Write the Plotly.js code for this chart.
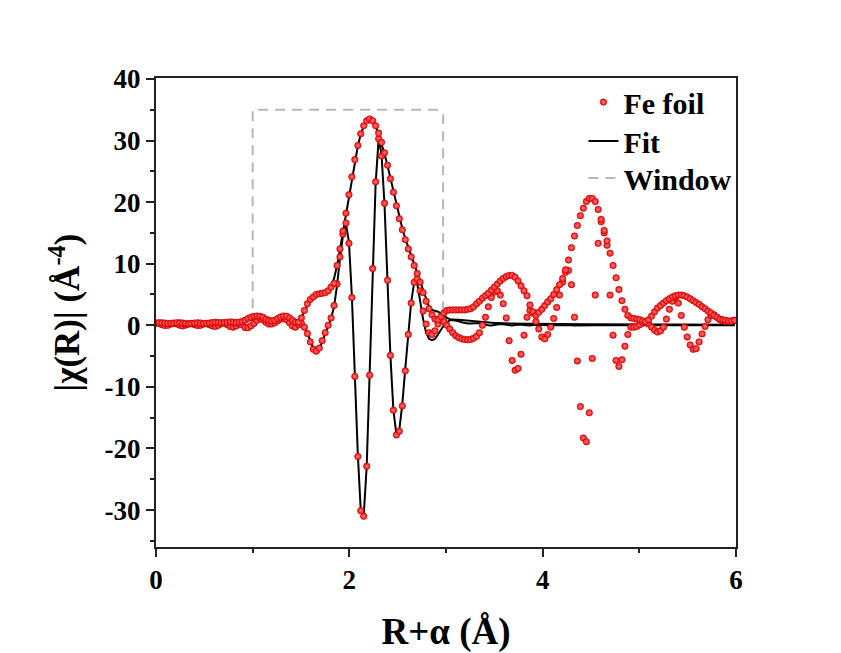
<!DOCTYPE html>
<html>
<head>
<meta charset="utf-8">
<script src="https://cdn.plot.ly/plotly-3.0.1.min.js"></script>
<style>html,body{margin:0;padding:0;background:#fff;}#chart{width:841px;height:653px;}</style>
</head>
<body>
<div id="chart"></div>
<script>
// R grid (Å)
const R = [0,0.031,0.061,0.092,0.123,0.154,0.184,0.215,0.246,0.276,
0.307,0.338,0.368,0.399,0.430,0.461,0.491,0.522,0.553,0.583,
0.614,0.645,0.675,0.706,0.737,0.768,0.798,0.829,0.860,0.890,
0.921,0.952,0.982,1.013,1.044,1.075,1.105,1.136,1.167,1.197,
1.228,1.259,1.289,1.320,1.351,1.382,1.412,1.443,1.474,1.504,
1.535,1.566,1.596,1.627,1.658,1.689,1.719,1.750,1.781,1.811,
1.842,1.873,1.903,1.934,1.965,1.996,2.026,2.057,2.088,2.118,
2.149,2.180,2.210,2.241,2.272,2.303,2.333,2.364,2.395,2.425,
2.456,2.487,2.517,2.548,2.579,2.610,2.640,2.671,2.702,2.732,
2.763,2.794,2.824,2.855,2.886,2.917,2.947,2.978,3.009,3.039,
3.070,3.101,3.131,3.162,3.193,3.224,3.254,3.285,3.316,3.346,
3.377,3.408,3.438,3.469,3.500,3.531,3.561,3.592,3.623,3.653,
3.684,3.715,3.745,3.776,3.807,3.838,3.868,3.899,3.930,3.960,
3.991,4.022,4.052,4.083,4.114,4.145,4.175,4.206,4.237,4.267,
4.298,4.329,4.359,4.390,4.421,4.452,4.482,4.513,4.544,4.574,
4.605,4.636,4.666,4.697,4.728,4.759,4.789,4.820,4.851,4.881,
4.912,4.943,4.973,5.004,5.035,5.066,5.096,5.127,5.158,5.188,
5.219,5.250,5.280,5.311,5.342,5.373,5.403,5.434,5.465,5.495,
5.526,5.557,5.587,5.618,5.649,5.680,5.710,5.741,5.772,5.802,
5.833,5.864,5.894,5.925,5.956,5.987];

// Fe foil data: |chi(R)|
const dataMag = [0.35,0.4,0.4,0.35,0.3,0.3,0.35,0.4,0.4,0.35,
0.3,0.25,0.3,0.35,0.4,0.35,0.3,0.3,0.35,0.45,
0.5,0.45,0.4,0.45,0.5,0.55,0.5,0.45,0.5,0.6,
0.8,1.1,1.3,1.45,1.5,1.45,1.3,1.0,0.8,0.7,
0.8,1.1,1.35,1.5,1.45,1.2,0.8,0.5,0.5,1.2,
2.4,3.5,4.2,4.6,5.0,5.1,5.2,5.3,5.6,6.2,
6.8,9.7,12.4,15.3,18.2,21.2,24.1,26.9,29.2,31.1,
32.4,33.2,33.5,33.2,32.4,31.2,29.7,28.0,26.0,23.8,
21.6,19.4,17.3,15.5,13.9,12.4,11.1,9.7,8.4,7.0,
5.3,3.9,2.7,1.7,1.0,0.9,1.4,2.0,2.4,2.5,
2.5,2.5,2.5,2.5,2.5,2.6,2.7,3.0,3.5,3.9,
4.4,4.8,5.2,5.7,6.2,6.7,7.2,7.6,7.9,8.1,
8.1,7.8,7.2,6.4,5.6,4.8,3.3,2.2,1.6,2.1,
2.6,3.2,3.8,4.3,5.0,5.8,6.6,7.6,9.0,10.6,
12.6,14.5,16.2,17.8,19.0,20.1,20.6,20.6,20.1,18.8,
17.2,15.4,13.7,11.7,9.7,7.7,5.8,4.0,2.6,1.6,
1.2,1.1,1.0,0.9,0.7,0.6,0.9,1.5,2.2,2.8,
3.2,3.6,4.0,4.3,4.6,4.8,4.9,4.9,4.8,4.6,
4.3,4.0,3.7,3.4,3.0,2.7,2.3,2.0,1.6,1.3,
1.0,0.9,0.8,0.7,0.7,0.8];

// Fe foil data: Re[chi(R)]
const dataRe = [0.35,0.3,0.1,-0.05,0.0,0.2,0.3,0.2,0.0,-0.1,
0.05,0.2,0.25,0.1,-0.05,0.0,0.2,0.25,0.1,-0.1,
-0.2,0.0,0.3,0.35,0.1,-0.2,-0.3,-0.1,0.2,0.1,
-0.35,-0.4,-0.1,0.3,0.8,1.1,0.9,0.5,0.2,0.2,
0.4,0.7,1.0,1.1,0.9,0.4,-0.1,-0.3,0.1,0.3,
-0.3,-1.35,-2.7,-3.9,-4.2,-3.7,-2.5,-1.2,0.0,1.2,
3.2,6.7,11.1,14.8,16.6,13.3,4.5,-8.3,-21.3,-30.1,
-31.0,-22.9,-8.1,9.2,23.3,30.3,27.5,19.8,7.3,-4.9,
-13.8,-17.8,-17.2,-13.1,-7.4,-1.5,3.6,7.0,7.5,5.6,
2.3,0.2,-1.2,-1.5,-0.9,0.2,0.8,0.6,0.0,-0.6,
-1.2,-1.7,-2.0,-2.2,-2.3,-2.35,-2.3,-2.1,-1.8,-1.2,
0.0,1.3,3.0,4.5,5.4,5.6,4.9,3.5,1.2,-2.5,
-5.7,-7.3,-7.0,-4.7,-1.6,1.3,2.4,2.0,0.6,-0.6,
-1.9,-2.2,-1.5,-0.3,1.1,2.9,4.9,7.0,8.6,8.9,
6.6,1.3,-5.8,-13.2,-18.3,-18.9,-14.2,-5.4,4.9,13.3,
16.8,15.0,13.0,4.9,-1.6,-5.7,-6.7,-5.6,-3.4,-1.5,
-0.3,-0.3,-0.2,0.1,0.4,0.5,0.2,-0.3,-0.8,-1.1,
-0.9,-0.3,1.0,2.6,3.9,4.5,3.6,1.6,-0.3,-1.9,
-3.2,-3.9,-3.8,-2.7,-1.4,-0.2,0.9,1.6,1.7,1.3,
0.9,0.7,0.6,0.6,0.7,0.8];

// Fit: |chi(R)|
const fitMag = [0.3,0.32,0.33,0.3,0.28,0.27,0.3,0.33,0.33,0.3,
0.27,0.25,0.27,0.3,0.32,0.3,0.27,0.27,0.3,0.35,
0.38,0.36,0.33,0.36,0.4,0.42,0.4,0.38,0.42,0.5,
0.65,0.85,1.0,1.1,1.15,1.1,1.0,0.8,0.65,0.6,
0.7,0.9,1.1,1.2,1.2,1.0,0.75,0.6,0.7,1.3,
2.3,3.3,4.0,4.5,4.8,5.0,5.1,5.3,5.7,6.4,
7.6,9.7,12.3,15.2,18.1,21.1,24.0,26.8,29.1,31.0,
32.3,33.1,33.4,33.1,32.3,31.0,29.5,27.8,25.9,23.8,
21.6,19.5,17.5,15.7,14.1,12.7,11.3,9.9,8.5,7.0,
5.5,4.1,3.0,2.5,2.4,2.2,1.9,1.5,1.2,1.0,
0.9,0.9,0.9,0.85,0.8,0.7,0.65,0.6,0.55,0.5,
0.48,0.45,0.42,0.4,0.37,0.35,0.33,0.3,0.28,0.27,
0.26,0.25,0.25,0.24,0.24,0.23,0.23,0.22,0.22,0.21,
0.21,0.2,0.2,0.2,0.19,0.19,0.19,0.18,0.18,0.18,
0.18,0.17,0.17,0.17,0.17,0.16,0.16,0.16,0.16,0.16,
0.15,0.15,0.15,0.15,0.15,0.15,0.14,0.14,0.14,0.14,
0.14,0.14,0.14,0.13,0.13,0.13,0.13,0.13,0.13,0.13,
0.13,0.12,0.12,0.12,0.12,0.12,0.12,0.12,0.12,0.12,
0.12,0.11,0.11,0.11,0.11,0.11,0.11,0.11,0.11,0.11,
0.11,0.1,0.1,0.1,0.1,0.1];

// Fit: Re[chi(R)]
const fitRe = [0.25,0.2,0.05,-0.05,0.0,0.15,0.22,0.15,0.0,-0.08,
0.03,0.15,0.2,0.08,-0.04,0.0,0.15,0.2,0.08,-0.08,
-0.15,0.0,0.22,0.27,0.08,-0.15,-0.25,-0.08,0.15,0.05,
-0.2,-0.25,0.0,0.3,0.6,0.85,0.75,0.45,0.2,0.15,
0.3,0.55,0.8,0.9,0.75,0.35,0.0,-0.2,0.05,0.4,
-0.2,-1.2,-2.5,-3.7,-4.2,-3.8,-2.7,-1.4,-0.2,1.1,
3.0,6.5,10.8,14.6,16.5,13.5,4.8,-8.0,-21.0,-30.0,
-30.8,-22.8,-8.3,9.0,23.0,30.2,27.8,19.6,7.0,-5.0,
-13.8,-17.7,-17.0,-12.8,-7.0,-1.2,3.8,7.0,6.8,4.0,
1.0,-1.2,-2.2,-2.4,-2.2,-1.5,-0.7,0.0,0.5,0.8,
0.85,0.8,0.65,0.5,0.35,0.3,0.3,0.35,0.4,0.35,
0.25,0.1,0.0,-0.05,0.05,0.15,0.2,0.15,0.05,-0.05,
-0.05,0.05,0.12,0.12,0.05,-0.02,-0.03,0.03,0.08,0.08,
0.03,-0.02,0.0,0.05,0.06,0.02,-0.02,0.0,0.04,0.05,
0.02,-0.02,-0.01,0.03,0.04,0.02,-0.01,0.0,0.03,0.03,
0.01,-0.01,0.0,0.02,0.03,0.01,-0.01,0.0,0.02,0.02,
0.01,-0.01,0.0,0.02,0.02,0.01,-0.01,0.0,0.01,0.02,
0.01,0.0,0.0,0.01,0.02,0.01,0.0,0.0,0.01,0.01,
0.01,0.0,0.0,0.01,0.01,0.01,0.0,0.0,0.01,0.01,
0.0,0.0,0.0,0.01,0.01,0.0];

// Fitting window
const winR = [1.0, 1.0, 1.03, 2.9, 2.97, 2.97];
const winY = [0, 35, 35, 35, 34.5, 0];

// Tick labels
const xTickVals = [0, 2, 4, 6];
const xTickText = ['0', '2', '4', '6'];
const yTickVals = [-30, -20, -10, 0, 10, 20, 30, 40];
const yTickText = ['-30', '-20', '-10', '0', '10', '20', '30', '40'];

const FONT = 'Liberation Serif, Times New Roman, serif';
const marker = {color:'#f01010', size:6.5, line:{color:'#c00000', width:0.6},
  gradient:{type:'radial', color:'#ff7a7a'}};

const traces = [
  {x:winR, y:winY, mode:'lines', name:'Window', legend:'legend3',
   line:{color:'#b8b8b8', width:2, dash:'10px,7px'}},
  {x:R, y:fitRe, mode:'lines', name:'Fit', legendgroup:'fit', showlegend:false, legend:'legend2',
   line:{color:'#000', width:2}},
  {x:R, y:fitMag, mode:'lines', name:'Fit', legendgroup:'fit', legend:'legend2',
   line:{color:'#000', width:2}},
  {x:R, y:dataRe, mode:'markers', name:'Fe foil', legendgroup:'fe', showlegend:false, legend:'legend', marker:marker},
  {x:R, y:dataMag, mode:'markers', name:'Fe foil', legendgroup:'fe', legend:'legend', marker:marker}
];

const axisCommon = {
  showline:true, mirror:true, linecolor:'#222', linewidth:2,
  ticks:'outside', ticklen:8, tickwidth:2, tickcolor:'#222',
  showgrid:false, zeroline:false,
  tickfont:{family:FONT, size:27, color:'#000', weight:'bold'}
};

const legFont = {family:FONT, size:30, color:'#000', weight:'bold'};
function leg(y) {
  return {x:0.737, y:y, xanchor:'left', yanchor:'top', bgcolor:'rgba(0,0,0,0)', font:legFont};
}

const layout = {
  width:841, height:653,
  margin:{l:156, r:105, t:78, b:106},
  paper_bgcolor:'#fff', plot_bgcolor:'#fff',
  showlegend:true,
  legend:leg(1.004),
  legend2:leg(0.921),
  legend3:leg(0.842),
  xaxis:Object.assign({}, axisCommon, {
    range:[0,6], tickmode:'array', tickvals:xTickVals, ticktext:xTickText,
    minor:{dtick:1, tick0:0, ticks:'outside', ticklen:4, tickwidth:2, tickcolor:'#222'},
    title:{text:'R+α (Å)', standoff:28, font:{family:FONT, size:37, color:'#000', weight:'bold'}}
  }),
  yaxis:Object.assign({}, axisCommon, {
    range:[-36, 40.15], tickmode:'array', tickvals:yTickVals, ticktext:yTickText,
    minor:{dtick:5, tick0:0, ticks:'outside', ticklen:4, tickwidth:2, tickcolor:'#222'},
    title:{text:'|χ(R)| (Å<sup>-4</sup>)', standoff:14, font:{family:FONT, size:35, color:'#000', weight:'bold'}}
  })
};

Plotly.newPlot('chart', traces, layout, {displayModeBar:false, staticPlot:true});
</script>
</body>
</html>
